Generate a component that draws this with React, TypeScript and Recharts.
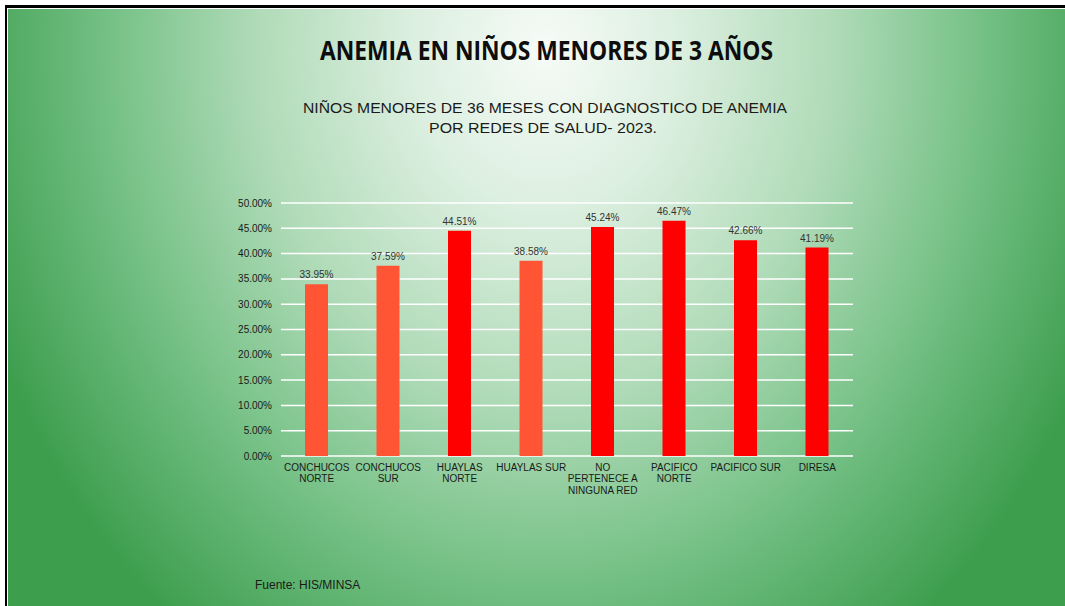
import { BarChart, Bar, XAxis, YAxis, CartesianGrid, LabelList, Cell } from 'recharts';

const redes = [
  'CONCHUCOS NORTE',
  'CONCHUCOS SUR',
  'HUAYLAS NORTE',
  'HUAYLAS SUR',
  'NO PERTENECE A NINGUNA RED',
  'PACIFICO NORTE',
  'PACIFICO SUR',
  'DIRESA',
];

// how each category label wraps under the axis
const tickLines = [
  ['CONCHUCOS', 'NORTE'],
  ['CONCHUCOS', 'SUR'],
  ['HUAYLAS', 'NORTE'],
  ['HUAYLAS SUR'],
  ['NO', 'PERTENECE A', 'NINGUNA RED'],
  ['PACIFICO', 'NORTE'],
  ['PACIFICO SUR'],
  ['DIRESA'],
];

const anemia = [33.95, 37.59, 44.51, 38.58, 45.24, 46.47, 42.66, 41.19];

const yTicks = [0, 5, 10, 15, 20, 25, 30, 35, 40, 45, 50];

const data = redes.map((red, i) => ({ red, anemia: anemia[i] }));

const FONT = '"Liberation Sans", Arial, sans-serif';

const CategoryTick = ({ x, y, payload }: any) => {
  const lines = tickLines[payload.index] || [payload.value];
  return (
    <text x={x} y={y} textAnchor="middle" fill="#1a1a1a" fontSize={10} fontFamily={FONT}>
      {lines.map((l, i) => (
        <tspan key={i} x={x} dy={i === 0 ? 13 : 11.3}>
          {l}
        </tspan>
      ))}
    </text>
  );
};

export default function App() {
  return (
    <div
      style={{
        position: 'absolute',
        left: 0,
        top: 0,
        width: 1065,
        height: 606,
        background: '#fff',
        overflow: 'hidden',
        fontFamily: FONT,
      }}
    >
      {/* frame */}
      <div style={{ position: 'absolute', left: 5, top: 5, right: 0, height: 3, background: '#000' }} />
      <div style={{ position: 'absolute', left: 5, top: 5, width: 2, bottom: 0, background: '#000' }} />

      {/* slide background */}
      <div
        style={{
          position: 'absolute',
          left: 8,
          top: 9,
          right: 0,
          bottom: 0,
          background:
            'radial-gradient(ellipse 600px 730px at 537px 40px, #f6fbf7 0%, #dcefe0 22%, #b0dbb8 48%, #72bf83 74%, #3d9e4e 100%)',
        }}
      />

      <svg width={1065} height={606} style={{ position: 'absolute', left: 0, top: 0 }}>
        <text
          x={546.5}
          y={60}
          textAnchor="middle"
          fontFamily='"Open Sans", sans-serif'
          fontWeight={700}
          fontSize={27}
          textLength={453}
          lengthAdjust="spacingAndGlyphs"
          fill="#0d0d0d"
        >
          ANEMIA EN NIÑOS MENORES DE 3 AÑOS
        </text>
        <text
          x={545}
          y={113}
          textAnchor="middle"
          fontFamily={FONT}
          fontSize={15}
          textLength={484}
          lengthAdjust="spacingAndGlyphs"
          fill="#1a1a1a"
        >
          NIÑOS MENORES DE 36 MESES CON DIAGNOSTICO DE ANEMIA
        </text>
        <text
          x={543}
          y={133}
          textAnchor="middle"
          fontFamily={FONT}
          fontSize={15}
          textLength={228}
          lengthAdjust="spacingAndGlyphs"
          fill="#1a1a1a"
        >
          POR REDES DE SALUD- 2023.
        </text>
        <text x={255} y={589} fontFamily={FONT} fontSize={12} fill="#1a1a1a">
          Fuente: HIS/MINSA
        </text>
      </svg>

      <div style={{ position: 'absolute', left: 0, top: 0 }}>
        <BarChart
          width={1065}
          height={606}
          data={data}
          margin={{ top: 203, right: 212, bottom: 120, left: 221 }}
        >
          <CartesianGrid vertical={false} stroke="#ffffff" strokeWidth={1.5} />
          <XAxis
            dataKey="red"
            height={30}
            axisLine={false}
            tickLine={false}
            tickSize={0}
            tickMargin={2}
            interval={0}
            tick={<CategoryTick />}
          />
          <YAxis
            width={60}
            domain={[0, 50]}
            ticks={yTicks}
            axisLine={false}
            tickLine={false}
            tickSize={0}
            tickMargin={9}
            tickFormatter={(v: number) => v.toFixed(2) + '%'}
            tick={{ fill: '#1a1a1a', fontSize: 10, fontFamily: FONT }}
          />
          <Bar dataKey="anemia" barSize={23} isAnimationActive={false}>
            {data.map((d, i) => (
              <Cell key={i} fill={d.anemia < 40 ? '#ff5535' : '#ff0000'} />
            ))}
            <LabelList
              dataKey="anemia"
              position="top"
              offset={6}
              formatter={(v: number) => v.toFixed(2) + '%'}
              fill="#333333"
              fontSize={10}
              fontFamily={FONT}
            />
          </Bar>
        </BarChart>
      </div>
    </div>
  );
}
